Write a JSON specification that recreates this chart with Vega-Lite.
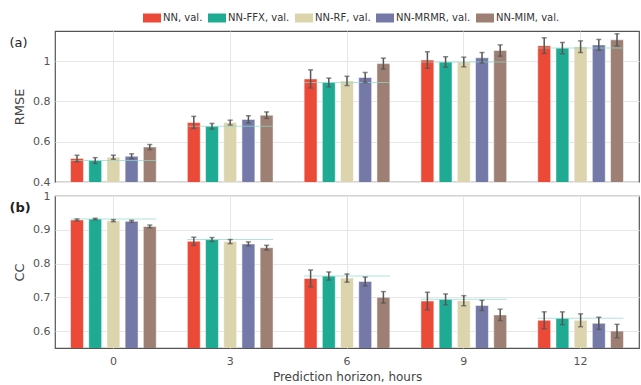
{
  "$schema": "https://vega.github.io/schema/vega-lite/v6.json",
  "padding": {"left": 8, "right": 0, "top": 9, "bottom": 4},
  "config": {
    "font": "DejaVu Sans",
    "view": {"stroke": "#555555", "strokeWidth": 1.2},
    "axis": {
      "gridColor": "#e6e6e6", "labelColor": "#555555", "titleColor": "#444444",
      "labelFontSize": 11, "titleFontSize": 13, "titleFontWeight": "normal",
      "tickSize": 0, "domain": false, "labelPadding": 5, "titlePadding": 6, "labelOverlap": false
    },
    "legend": {
      "orient": "none", "legendX": 88, "legendY": -22, "direction": "horizontal", "title": null,
      "symbolType": "M-1,-0.5H1V0.5H-1Z", "symbolSize": 324, "symbolStrokeWidth": 0,
      "symbolOpacity": 1, "labelFontSize": 10, "labelColor": "#333333",
      "columnPadding": 5, "labelOffset": 2
    }
  },
  "datasets": {
    "d": [
      {"m": "RMSE", "h": 0, "model": "NN, val.", "v": 0.517, "lo": 0.501, "hi": 0.533},
      {"m": "RMSE", "h": 0, "model": "NN-FFX, val.", "v": 0.507, "lo": 0.492, "hi": 0.521},
      {"m": "RMSE", "h": 0, "model": "NN-RF, val.", "v": 0.523, "lo": 0.513, "hi": 0.533},
      {"m": "RMSE", "h": 0, "model": "NN-MRMR, val.", "v": 0.528, "lo": 0.516, "hi": 0.540},
      {"m": "RMSE", "h": 0, "model": "NN-MIM, val.", "v": 0.574, "lo": 0.561, "hi": 0.586},
      {"m": "RMSE", "h": 3, "model": "NN, val.", "v": 0.695, "lo": 0.666, "hi": 0.726},
      {"m": "RMSE", "h": 3, "model": "NN-FFX, val.", "v": 0.677, "lo": 0.663, "hi": 0.691},
      {"m": "RMSE", "h": 3, "model": "NN-RF, val.", "v": 0.695, "lo": 0.683, "hi": 0.707},
      {"m": "RMSE", "h": 3, "model": "NN-MRMR, val.", "v": 0.711, "lo": 0.693, "hi": 0.729},
      {"m": "RMSE", "h": 3, "model": "NN-MIM, val.", "v": 0.732, "lo": 0.716, "hi": 0.748},
      {"m": "RMSE", "h": 6, "model": "NN, val.", "v": 0.912, "lo": 0.867, "hi": 0.957},
      {"m": "RMSE", "h": 6, "model": "NN-FFX, val.", "v": 0.894, "lo": 0.872, "hi": 0.916},
      {"m": "RMSE", "h": 6, "model": "NN-RF, val.", "v": 0.902, "lo": 0.879, "hi": 0.925},
      {"m": "RMSE", "h": 6, "model": "NN-MRMR, val.", "v": 0.919, "lo": 0.894, "hi": 0.944},
      {"m": "RMSE", "h": 6, "model": "NN-MIM, val.", "v": 0.988, "lo": 0.961, "hi": 1.015},
      {"m": "RMSE", "h": 9, "model": "NN, val.", "v": 1.006, "lo": 0.965, "hi": 1.047},
      {"m": "RMSE", "h": 9, "model": "NN-FFX, val.", "v": 0.996, "lo": 0.970, "hi": 1.022},
      {"m": "RMSE", "h": 9, "model": "NN-RF, val.", "v": 0.996, "lo": 0.972, "hi": 1.020},
      {"m": "RMSE", "h": 9, "model": "NN-MRMR, val.", "v": 1.017, "lo": 0.991, "hi": 1.043},
      {"m": "RMSE", "h": 9, "model": "NN-MIM, val.", "v": 1.053, "lo": 1.025, "hi": 1.081},
      {"m": "RMSE", "h": 12, "model": "NN, val.", "v": 1.077, "lo": 1.038, "hi": 1.116},
      {"m": "RMSE", "h": 12, "model": "NN-FFX, val.", "v": 1.065, "lo": 1.037, "hi": 1.093},
      {"m": "RMSE", "h": 12, "model": "NN-RF, val.", "v": 1.072, "lo": 1.043, "hi": 1.101},
      {"m": "RMSE", "h": 12, "model": "NN-MRMR, val.", "v": 1.081, "lo": 1.054, "hi": 1.108},
      {"m": "RMSE", "h": 12, "model": "NN-MIM, val.", "v": 1.106, "lo": 1.076, "hi": 1.136},
      {"m": "CC", "h": 0, "model": "NN, val.", "v": 0.929, "lo": 0.926, "hi": 0.932},
      {"m": "CC", "h": 0, "model": "NN-FFX, val.", "v": 0.932, "lo": 0.930, "hi": 0.934},
      {"m": "CC", "h": 0, "model": "NN-RF, val.", "v": 0.927, "lo": 0.924, "hi": 0.930},
      {"m": "CC", "h": 0, "model": "NN-MRMR, val.", "v": 0.925, "lo": 0.922, "hi": 0.928},
      {"m": "CC", "h": 0, "model": "NN-MIM, val.", "v": 0.910, "lo": 0.906, "hi": 0.914},
      {"m": "CC", "h": 3, "model": "NN, val.", "v": 0.866, "lo": 0.854, "hi": 0.878},
      {"m": "CC", "h": 3, "model": "NN-FFX, val.", "v": 0.871, "lo": 0.865, "hi": 0.877},
      {"m": "CC", "h": 3, "model": "NN-RF, val.", "v": 0.865, "lo": 0.859, "hi": 0.871},
      {"m": "CC", "h": 3, "model": "NN-MRMR, val.", "v": 0.858, "lo": 0.852, "hi": 0.864},
      {"m": "CC", "h": 3, "model": "NN-MIM, val.", "v": 0.847, "lo": 0.840, "hi": 0.854},
      {"m": "CC", "h": 6, "model": "NN, val.", "v": 0.756, "lo": 0.731, "hi": 0.781},
      {"m": "CC", "h": 6, "model": "NN-FFX, val.", "v": 0.763, "lo": 0.751, "hi": 0.775},
      {"m": "CC", "h": 6, "model": "NN-RF, val.", "v": 0.757, "lo": 0.745, "hi": 0.769},
      {"m": "CC", "h": 6, "model": "NN-MRMR, val.", "v": 0.747, "lo": 0.734, "hi": 0.760},
      {"m": "CC", "h": 6, "model": "NN-MIM, val.", "v": 0.700, "lo": 0.683, "hi": 0.717},
      {"m": "CC", "h": 9, "model": "NN, val.", "v": 0.689, "lo": 0.663, "hi": 0.715},
      {"m": "CC", "h": 9, "model": "NN-FFX, val.", "v": 0.694, "lo": 0.678, "hi": 0.710},
      {"m": "CC", "h": 9, "model": "NN-RF, val.", "v": 0.690, "lo": 0.675, "hi": 0.705},
      {"m": "CC", "h": 9, "model": "NN-MRMR, val.", "v": 0.676, "lo": 0.661, "hi": 0.691},
      {"m": "CC", "h": 9, "model": "NN-MIM, val.", "v": 0.648, "lo": 0.631, "hi": 0.665},
      {"m": "CC", "h": 12, "model": "NN, val.", "v": 0.632, "lo": 0.607, "hi": 0.657},
      {"m": "CC", "h": 12, "model": "NN-FFX, val.", "v": 0.638, "lo": 0.619, "hi": 0.657},
      {"m": "CC", "h": 12, "model": "NN-RF, val.", "v": 0.632, "lo": 0.613, "hi": 0.651},
      {"m": "CC", "h": 12, "model": "NN-MRMR, val.", "v": 0.623, "lo": 0.605, "hi": 0.641},
      {"m": "CC", "h": 12, "model": "NN-MIM, val.", "v": 0.600, "lo": 0.580, "hi": 0.620}
    ]
  },
  "spacing": 14,
  "bounds": "flush",
  "vconcat": [
    {
      "width": 584, "height": 151,
      "title": {"text": "(a)", "anchor": "start", "frame": "bounds", "offset": -19, "dx": -4, "fontSize": 13, "fontWeight": "normal", "color": "#222222"},
      "data": {"name": "d"},
      "transform": [{"filter": "datum.m == 'RMSE'"}],
      "encoding": {
        "x": {"field": "h", "type": "ordinal", "scale": {"paddingInner": 0.266, "paddingOuter": 0.133},
              "axis": {"labels": false, "title": null, "ticks": false, "grid": true}},
        "y": {"type": "quantitative", "scale": {"domain": [0.4, 1.15], "zero": false, "nice": false},
              "axis": {"values": [0.4, 0.6, 0.8, 1], "format": "~g", "title": "RMSE", "labelOverlap": false}}
      },
      "layer": [
        {
          "mark": {"type": "bar", "clip": true, "stroke": "white", "strokeWidth": 1, "strokeOpacity": 0.5},
          "encoding": {
            "xOffset": {"field": "model", "scale": {"domain": ["NN, val.", "NN-FFX, val.", "NN-RF, val.", "NN-MRMR, val.", "NN-MIM, val."], "paddingInner": 0.29}},
            "y": {"field": "v", "type": "quantitative"},
            "color": {"field": "model", "type": "nominal",
                      "scale": {"domain": ["NN, val.", "NN-FFX, val.", "NN-RF, val.", "NN-MRMR, val.", "NN-MIM, val."],
                                "range": ["#ea4a37", "#1faa93", "#dcd4ad", "#7479a7", "#9e7f73"]}}
          }
        },
        {
          "transform": [{"filter": "datum.model == 'NN-FFX, val.'"}],
          "mark": {"type": "tick", "size": 86, "thickness": 1, "color": "#8fd8ca"},
          "encoding": {"y": {"field": "v", "type": "quantitative"}}
        },
        {
          "mark": {"type": "rule", "color": "#555555", "strokeWidth": 1.5},
          "encoding": {"xOffset": {"field": "model"}, "y": {"field": "lo", "type": "quantitative"}, "y2": {"field": "hi"}}
        },
        {
          "mark": {"type": "tick", "size": 5, "thickness": 1.5, "color": "#555555"},
          "encoding": {"xOffset": {"field": "model"}, "y": {"field": "lo", "type": "quantitative"}}
        },
        {
          "mark": {"type": "tick", "size": 5, "thickness": 1.5, "color": "#555555"},
          "encoding": {"xOffset": {"field": "model"}, "y": {"field": "hi", "type": "quantitative"}}
        }
      ]
    },
    {
      "width": 584, "height": 152,
      "title": {"text": "(b)", "anchor": "start", "frame": "bounds", "offset": -25, "dx": -4, "fontSize": 13, "fontWeight": "bold", "color": "#222222"},
      "data": {"name": "d"},
      "transform": [{"filter": "datum.m == 'CC'"}],
      "encoding": {
        "x": {"field": "h", "type": "ordinal", "scale": {"paddingInner": 0.266, "paddingOuter": 0.133},
              "axis": {"labelAngle": 0, "title": "Prediction horizon, hours", "titleFontSize": 12, "ticks": false, "grid": true, "labelPadding": 7, "titlePadding": 5}},
        "y": {"type": "quantitative", "scale": {"domain": [0.55, 1], "zero": false, "nice": false},
              "axis": {"values": [0.6, 0.7, 0.8, 0.9, 1], "format": "~g", "title": "CC", "labelOverlap": false, "labelSeparation": 0}}
      },
      "layer": [
        {
          "mark": {"type": "bar", "clip": true, "stroke": "white", "strokeWidth": 1, "strokeOpacity": 0.5},
          "encoding": {
            "xOffset": {"field": "model", "scale": {"domain": ["NN, val.", "NN-FFX, val.", "NN-RF, val.", "NN-MRMR, val.", "NN-MIM, val."], "paddingInner": 0.29}},
            "y": {"field": "v", "type": "quantitative"},
            "color": {"field": "model", "type": "nominal",
                      "scale": {"domain": ["NN, val.", "NN-FFX, val.", "NN-RF, val.", "NN-MRMR, val.", "NN-MIM, val."],
                                "range": ["#ea4a37", "#1faa93", "#dcd4ad", "#7479a7", "#9e7f73"]}}
          }
        },
        {
          "transform": [{"filter": "datum.model == 'NN-FFX, val.'"}],
          "mark": {"type": "tick", "size": 86, "thickness": 1, "color": "#8fd8ca"},
          "encoding": {"y": {"field": "v", "type": "quantitative"}}
        },
        {
          "mark": {"type": "rule", "color": "#555555", "strokeWidth": 1.5},
          "encoding": {"xOffset": {"field": "model"}, "y": {"field": "lo", "type": "quantitative"}, "y2": {"field": "hi"}}
        },
        {
          "mark": {"type": "tick", "size": 5, "thickness": 1.5, "color": "#555555"},
          "encoding": {"xOffset": {"field": "model"}, "y": {"field": "lo", "type": "quantitative"}}
        },
        {
          "mark": {"type": "tick", "size": 5, "thickness": 1.5, "color": "#555555"},
          "encoding": {"xOffset": {"field": "model"}, "y": {"field": "hi", "type": "quantitative"}}
        }
      ]
    }
  ]
}
